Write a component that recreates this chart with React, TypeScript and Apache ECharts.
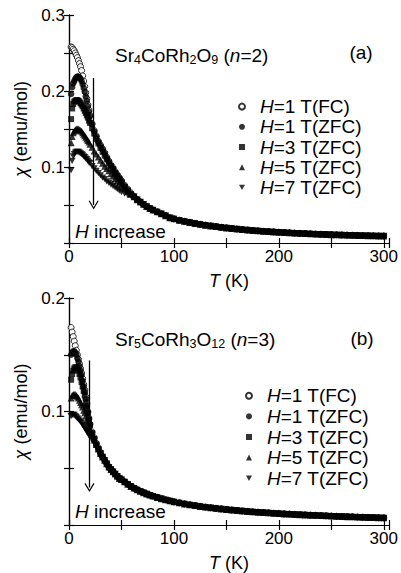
import React, { useEffect, useRef } from "react";
import * as echarts from "echarts";

// ---- data ----
const T_LOW = [2, 3, 4, 5, 6, 7, 8, 9, 10, 11, 12, 13, 14, 15, 16, 17, 18, 19, 20, 22, 24, 26, 28, 30, 32, 34, 36, 38, 40, 42, 44, 46, 48, 50, 53, 56, 59];
const T_TAIL = [62, 65, 68, 71, 74, 77, 80, 84, 88, 92, 96, 100, 105, 110, 115, 120, 125, 130, 135, 140, 145, 150, 155, 160, 165, 170, 175, 180, 185, 190, 195, 200, 205, 210, 215, 220, 225, 230, 235, 240, 245, 250, 255, 260, 265, 270, 275, 280, 285, 290, 295, 300];

// panel (a) Sr4CoRh2O9
const A_FC_1T = [0.258, 0.257, 0.255, 0.253, 0.25, 0.247, 0.244, 0.24, 0.236, 0.232, 0.227, 0.22, 0.213, 0.206, 0.198, 0.19, 0.182, 0.175, 0.168, 0.157, 0.148, 0.141, 0.134, 0.129, 0.124, 0.119, 0.113, 0.108, 0.103, 0.099, 0.094, 0.09, 0.086, 0.082, 0.076, 0.071, 0.066];
const A_ZFC_1T = [0.196, 0.205, 0.21, 0.213, 0.216, 0.218, 0.219, 0.219, 0.218, 0.216, 0.213, 0.209, 0.204, 0.199, 0.193, 0.187, 0.18, 0.173, 0.167, 0.156, 0.147, 0.14, 0.133, 0.128, 0.123, 0.118, 0.112, 0.107, 0.102, 0.098, 0.093, 0.089, 0.085, 0.081, 0.075, 0.07, 0.065];
const A_ZFC_3T = [0.163, 0.177, 0.183, 0.186, 0.187, 0.188, 0.188, 0.187, 0.186, 0.184, 0.182, 0.18, 0.177, 0.174, 0.171, 0.168, 0.165, 0.161, 0.158, 0.151, 0.144, 0.137, 0.131, 0.125, 0.12, 0.115, 0.11, 0.105, 0.101, 0.097, 0.092, 0.088, 0.084, 0.08, 0.074, 0.069, 0.064];
const A_ZFC_5T = [0.132, 0.14, 0.145, 0.147, 0.149, 0.15, 0.15, 0.15, 0.149, 0.148, 0.147, 0.145, 0.143, 0.141, 0.139, 0.137, 0.135, 0.133, 0.13, 0.126, 0.121, 0.117, 0.113, 0.109, 0.105, 0.101, 0.098, 0.095, 0.091, 0.088, 0.085, 0.082, 0.079, 0.076, 0.072, 0.068, 0.064];
const A_ZFC_7T = [0.096, 0.108, 0.114, 0.117, 0.119, 0.12, 0.12, 0.12, 0.119, 0.118, 0.117, 0.116, 0.114, 0.113, 0.111, 0.11, 0.108, 0.106, 0.105, 0.101, 0.098, 0.095, 0.092, 0.089, 0.086, 0.084, 0.081, 0.079, 0.077, 0.075, 0.073, 0.071, 0.069, 0.067, 0.065, 0.063, 0.062];
const A_TAIL = [0.061, 0.057, 0.054, 0.051, 0.048, 0.0455, 0.0435, 0.041, 0.0385, 0.036, 0.0333, 0.0318, 0.03, 0.0285, 0.0271, 0.0258, 0.0246, 0.0235, 0.0225, 0.0216, 0.0207, 0.0199, 0.0191, 0.0184, 0.0177, 0.0171, 0.0165, 0.016, 0.0155, 0.015, 0.0146, 0.0142, 0.0138, 0.0134, 0.013, 0.0127, 0.0124, 0.0121, 0.0118, 0.0115, 0.0113, 0.011, 0.0108, 0.0106, 0.0104, 0.0102, 0.01, 0.0098, 0.0096, 0.0095, 0.0093, 0.0092];

// panel (b) Sr5CoRh3O12
const B_FC_1T = [0.174, 0.17, 0.166, 0.162, 0.158, 0.154, 0.15, 0.146, 0.142, 0.138, 0.134, 0.129, 0.124, 0.119, 0.113, 0.107, 0.1, 0.094, 0.089, 0.082, 0.077, 0.072, 0.068, 0.064, 0.06, 0.057, 0.054, 0.051, 0.049, 0.047, 0.045, 0.043, 0.0415, 0.04, 0.038, 0.036, 0.034];
const B_ZFC_1T = [0.15, 0.152, 0.153, 0.153, 0.152, 0.15, 0.147, 0.144, 0.14, 0.136, 0.132, 0.127, 0.122, 0.117, 0.111, 0.105, 0.099, 0.093, 0.088, 0.081, 0.076, 0.071, 0.067, 0.063, 0.06, 0.057, 0.054, 0.051, 0.049, 0.047, 0.045, 0.043, 0.041, 0.04, 0.038, 0.036, 0.034];
const B_ZFC_3T = [0.128, 0.133, 0.136, 0.138, 0.139, 0.139, 0.138, 0.136, 0.133, 0.13, 0.126, 0.122, 0.118, 0.114, 0.108, 0.103, 0.098, 0.093, 0.088, 0.081, 0.076, 0.071, 0.067, 0.063, 0.06, 0.057, 0.054, 0.051, 0.049, 0.047, 0.045, 0.043, 0.041, 0.04, 0.038, 0.036, 0.034];
const B_ZFC_5T = [0.112, 0.114, 0.115, 0.115, 0.115, 0.114, 0.113, 0.112, 0.11, 0.108, 0.106, 0.104, 0.101, 0.099, 0.096, 0.093, 0.09, 0.087, 0.085, 0.08, 0.075, 0.071, 0.067, 0.063, 0.06, 0.057, 0.054, 0.051, 0.049, 0.047, 0.045, 0.043, 0.041, 0.04, 0.038, 0.036, 0.034];
const B_ZFC_7T = [0.096, 0.097, 0.097, 0.097, 0.096, 0.095, 0.094, 0.093, 0.092, 0.091, 0.09, 0.088, 0.087, 0.085, 0.084, 0.082, 0.081, 0.079, 0.078, 0.075, 0.072, 0.069, 0.066, 0.063, 0.06, 0.057, 0.054, 0.051, 0.049, 0.047, 0.045, 0.043, 0.041, 0.04, 0.038, 0.036, 0.034];
const B_TAIL = [0.0325, 0.031, 0.0297, 0.0285, 0.0274, 0.0264, 0.0255, 0.0243, 0.0232, 0.0222, 0.0213, 0.0204, 0.0195, 0.0186, 0.0178, 0.0171, 0.0164, 0.0158, 0.0152, 0.0147, 0.0142, 0.0137, 0.0132, 0.0128, 0.0124, 0.012, 0.0116, 0.0113, 0.011, 0.0107, 0.0104, 0.0101, 0.0098, 0.0096, 0.0093, 0.0091, 0.0089, 0.0087, 0.0085, 0.0083, 0.0081, 0.0079, 0.0077, 0.0075, 0.0073, 0.0072, 0.007, 0.0069, 0.0067, 0.0066, 0.0064, 0.0063];

const LEGEND_LABELS = ["=1 T(FC)", "=1 T(ZFC)", "=3 T(ZFC)", "=5 T(ZFC)", "=7 T(ZFC)"];
const X_TICKS = [0, 100, 200, 300];
const A_Y_TICKS = [0.1, 0.2, 0.3];
const B_Y_TICKS = [0.1, 0.2];
// arrows "H increase": [T, chi_start, chi_end]
const A_ARROW = [23.5, 0.217, 0.05];
const B_ARROW = [19.5, 0.145, 0.033];

const FONT = "'Liberation Sans', Arial, Helvetica, sans-serif";
const FS = 19;
const DOWN_TRI = "path://M0,0 L10,0 L5,9 Z";
const CHEVRON = "path://M5,0 L10,8.2 L9,8.8 L5,2.2 L1,8.8 L0,8.2 Z";

const SYMBOLS = [
  { symbol: "circle", size: 6, itemStyle: { color: "#fff", borderColor: "#000", borderWidth: 1 } },
  { symbol: "circle", size: 6.5, itemStyle: { color: "#000", borderWidth: 0 } },
  { symbol: "rect", size: 6, itemStyle: { color: "#000", borderWidth: 0 } },
  { symbol: "triangle", size: 7, itemStyle: { color: "#000", borderWidth: 0 } },
  { symbol: DOWN_TRI, size: 7, itemStyle: { color: "#000", borderWidth: 0 } },
];

function buildSeries(prefix: string, lows: number[][], tail: number[], xi: number, arrow: number[]) {
  return lows.map((low, i) => {
    const data: number[][] = [];
    T_LOW.forEach((t, k) => { if (low[k] !== undefined) data.push([t, low[k]]); });
    T_TAIL.forEach((t, k) => { if (tail[k] !== undefined) data.push([t, tail[k]]); });
    const s: any = {
      name: prefix + i,
      type: "scatter",
      xAxisIndex: xi,
      yAxisIndex: xi,
      symbol: SYMBOLS[i].symbol,
      symbolSize: SYMBOLS[i].size,
      symbolKeepAspect: true,
      itemStyle: SYMBOLS[i].itemStyle,
      data,
      z: 2 + i,
    };
    if (i === lows.length - 1) {
      s.markLine = {
        silent: true,
        symbol: ["none", CHEVRON],
        symbolSize: [10, 9],
        label: { show: false },
        lineStyle: { color: "#000", width: 1.3, type: "solid" },
        data: [[{ coord: [arrow[0], arrow[1]] }, { coord: [arrow[0], arrow[2]] }]],
      };
    }
    return s;
  });
}

function axisPair(gridIndex: number, yMax: number, yTicks: number[]) {
  const line = { lineStyle: { color: "#000", width: 1.2 } };
  const tick = { inside: true, length: 5, lineStyle: { color: "#000", width: 1.2 } };
  const isTick = (arr: number[], v: number) => arr.some((a) => Math.abs(a - v) < 1e-9);
  const xAxes = [
    {
      gridIndex, type: "value", position: "bottom", min: 0, max: 305, interval: 50,
      axisLine: line, axisTick: tick, splitLine: { show: false },
      axisLabel: { margin: 5, color: "#000", fontSize: 17, fontFamily: FONT, formatter: (v: number) => (isTick(X_TICKS, v) ? String(v) : "") },
      name: "{i|T} (K)", nameLocation: "middle", nameGap: 29,
      nameTextStyle: { color: "#000", fontSize: 18, fontFamily: FONT, rich: { i: { fontStyle: "italic", fontSize: 18, fontFamily: FONT, color: "#000" } } },
    },
    {
      gridIndex, type: "value", position: "top", min: 0, max: 305, interval: 50,
      axisLine: line, axisTick: tick, splitLine: { show: false }, axisLabel: { show: false },
    },
  ];
  const yAxes = [
    {
      gridIndex, type: "value", position: "left", min: 0, max: yMax, interval: 0.05,
      axisLine: line, axisTick: tick, splitLine: { show: false },
      axisLabel: { margin: 4, color: "#000", fontSize: 17, fontFamily: FONT, formatter: (v: number) => (isTick(yTicks, v) ? v.toFixed(1) : "") },
      name: "{i|χ} (emu/mol)", nameLocation: "middle", nameGap: 38, nameRotate: 90,
      nameTextStyle: { color: "#000", fontSize: 18, fontFamily: FONT, rich: { i: { fontStyle: "italic", fontSize: 18, fontFamily: FONT, color: "#000" } } },
    },
    {
      gridIndex, type: "value", position: "right", min: 0, max: yMax, interval: 0.05,
      axisLine: line, axisTick: tick, splitLine: { show: false }, axisLabel: { show: false },
    },
  ];
  return { xAxes, yAxes };
}

function legend(prefix: string, iconCenterX: number, top: number, lh: number) {
  return {
    orient: "vertical",
    left: iconCenterX - 3,
    top,
    padding: 0,
    itemWidth: 6,
    itemHeight: 6,
    itemGap: 0,
    selectedMode: false,
    data: LEGEND_LABELS.map((_, i) => prefix + i),
    formatter: (name: string) => "{sp|}{i|H}" + LEGEND_LABELS[Number(name.slice(1))],
    textStyle: {
      color: "#000", fontSize: FS, fontFamily: FONT, lineHeight: lh,
      rich: {
        sp: { width: 10, lineHeight: lh },
        i: { fontStyle: "italic", fontSize: FS, fontFamily: FONT, lineHeight: lh, color: "#000" },
      },
    },
  };
}

const richTitle = {
  n: { fontSize: FS, fontFamily: FONT, lineHeight: 22, color: "#000" },
  i: { fontSize: FS, fontFamily: FONT, lineHeight: 22, fontStyle: "italic", color: "#000" },
  s: { fontSize: 12.5, fontFamily: FONT, lineHeight: 10, verticalAlign: "bottom", color: "#000" },
};

function textEl(x: number, y: number, text: string, align = "left") {
  return {
    type: "text", x, y, z: 100,
    style: { text, rich: richTitle, fontSize: FS, fontFamily: FONT, fill: "#000", align, verticalAlign: "middle" },
  };
}

function buildOption() {
  const a = axisPair(0, 0.3, A_Y_TICKS);
  const b = axisPair(1, 0.2, B_Y_TICKS);
  return {
    animation: false,
    backgroundColor: "#fff",
    grid: [
      { left: 69, top: 15, width: 320, height: 228 },
      { left: 69, top: 298, width: 320, height: 227 },
    ],
    xAxis: [...a.xAxes, ...b.xAxes],
    yAxis: [...a.yAxes, ...b.yAxes],
    legend: [legend("a", 241, 96.5, 20.2), legend("b", 248, 385.5, 20.6)],
    series: [
      ...buildSeries("a", [A_FC_1T, A_ZFC_1T, A_ZFC_3T, A_ZFC_5T, A_ZFC_7T], A_TAIL, 0, A_ARROW),
      ...buildSeries("b", [B_FC_1T, B_ZFC_1T, B_ZFC_3T, B_ZFC_5T, B_ZFC_7T], B_TAIL, 2, B_ARROW),
    ],
    graphic: [
      textEl(115, 55, "{n|Sr}{s|4}{n|CoRh}{s|2}{n|O}{s|9}{n| (}{i|n}{n|=2)}"),
      textEl(361, 52, "{n|(a)}", "center"),
      textEl(75, 231, "{i|H}{n| increase}"),
      textEl(115, 339, "{n|Sr}{s|5}{n|CoRh}{s|3}{n|O}{s|12}{n| (}{i|n}{n|=3)}"),
      textEl(362, 338, "{n|(b)}", "center"),
      textEl(75, 511, "{i|H}{n| increase}"),
    ],
  };
}

export default function App() {
  const ref = useRef<HTMLDivElement>(null);
  useEffect(() => {
    if (!ref.current) return;
    const chart = echarts.init(ref.current, undefined, { renderer: "svg" });
    chart.setOption(buildOption() as any);
    return () => chart.dispose();
  }, []);
  return <div ref={ref} style={{ position: "fixed", left: 0, top: 0, width: 401, height: 573, background: "#fff" }} />;
}
